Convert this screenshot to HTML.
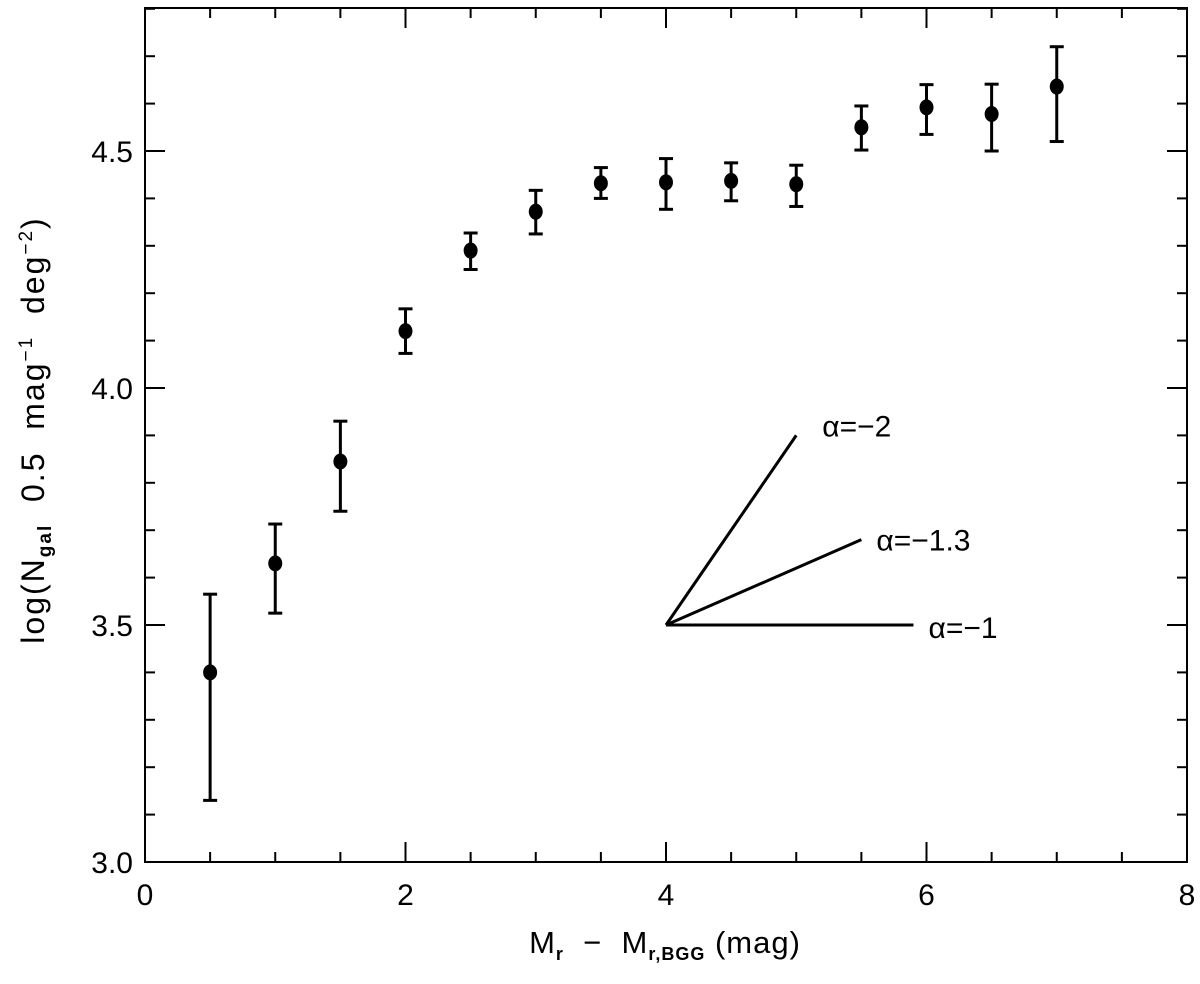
<!DOCTYPE html>
<html><head><meta charset="utf-8"><style>
body{margin:0;background:#fff}
svg text{font-family:"Liberation Sans",sans-serif;fill:#000}
</style></head><body>
<svg id="c" width="1200" height="979" xmlns="http://www.w3.org/2000/svg"></svg>
<script>
const xVals=[0.5,1,1.5,2,2.5,3,3.5,4,4.5,5,5.5,6,6.5,7];
const yVals=[3.40,3.63,3.845,4.12,4.29,4.372,4.432,4.434,4.437,4.43,4.55,4.592,4.578,4.636];
const yLow=[3.13,3.525,3.74,4.073,4.25,4.325,4.40,4.377,4.395,4.383,4.502,4.535,4.50,4.52];
const yHigh=[3.565,3.713,3.93,4.167,4.327,4.417,4.465,4.484,4.475,4.47,4.595,4.64,4.641,4.72];
const xTicks=[0,2,4,6,8];
const yTicks=[3.0,3.5,4.0,4.5];
const slopeAlphas=[-2,-1.3,-1];
const slopeEnds=[5.0,5.5,5.9];
const slopeLabels=["α=−2","α=−1.3","α=−1"];
const L=145,R=1187,T=8,B=862;
const sx=v=>L+(v-0)*(R-L)/8;
const sy=v=>B-(v-3.0)*474;
const svg=document.getElementById('c');
const NS='http://www.w3.org/2000/svg';
function mk(t,a,p){const e=document.createElementNS(NS,t);for(const k in a)e.setAttribute(k,a[k]);(p||svg).appendChild(e);return e;}
let e;
e=mk('rect',{x:L,y:T,width:R-L,height:B-T,fill:'none',stroke:'#000','stroke-width':2});


for(let v=0;v<=8.001;v+=0.5){const maj=Math.abs(v%2)<1e-6;const len=maj?20:10;
 mk('line',{x1:sx(v),x2:sx(v),y1:B,y2:B-len,stroke:'#000','stroke-width':2});
 mk('line',{x1:sx(v),x2:sx(v),y1:T,y2:T+len,stroke:'#000','stroke-width':2});}
for(let v=3.0;v<=4.8001;v+=0.1){const r=Math.round(v*10);const maj=r%5===0;const len=maj?20:10;
 mk('line',{x1:L,x2:L+len,y1:sy(v),y2:sy(v),stroke:'#000','stroke-width':2});
 mk('line',{x1:R,x2:R-len,y1:sy(v),y2:sy(v),stroke:'#000','stroke-width':2});}
xTicks.forEach(v=>{e=mk('text',{x:sx(v),y:B+43,'font-size':30,'text-anchor':'middle'});e.textContent=v;

});
yTicks.forEach(v=>{e=mk('text',{x:L-12,y:sy(v)+11,'font-size':30,'text-anchor':'end'});e.textContent=v.toFixed(1);

});
xVals.forEach((x,i)=>{const g=mk('g',{});
 
 
 mk('line',{x1:sx(x),x2:sx(x),y1:sy(yLow[i]),y2:sy(yHigh[i]),stroke:'#000','stroke-width':3},g);
 mk('line',{x1:sx(x)-7,x2:sx(x)+7,y1:sy(yLow[i]),y2:sy(yLow[i]),stroke:'#000','stroke-width':3},g);
 mk('line',{x1:sx(x)-7,x2:sx(x)+7,y1:sy(yHigh[i]),y2:sy(yHigh[i]),stroke:'#000','stroke-width':3},g);
 mk('ellipse',{cx:sx(x),cy:sy(yVals[i]),rx:7,ry:8,fill:'#000'},g);});
const labOff=[[26,-10],[15,0],[15,2]];
slopeAlphas.forEach((a,i)=>{const x2=slopeEnds[i];const y2=3.5+0.4*(-a-1)*(x2-4);
 e=mk('line',{x1:sx(4),y1:sy(3.5),x2:sx(x2),y2:sy(y2),stroke:'#000','stroke-width':3});
 
 
 e=mk('text',{x:sx(x2)+labOff[i][0],y:sy(y2)+11+labOff[i][1],'font-size':30,'font-family':'Liberation Serif, serif'});e.textContent=slopeLabels[i];
 
 });
</script>
<div style="position:absolute;left:0;top:925px;width:1330px;text-align:center;font:31px 'Liberation Sans',sans-serif;letter-spacing:1px">M<sub style="font-size:18px;font-weight:bold">r</sub> &nbsp;−&nbsp; M<sub style="font-size:18px;font-weight:bold">r,BGG</sub> (mag)</div>
<div style="position:absolute;left:36px;top:430px;white-space:nowrap;font:32px 'Liberation Sans',sans-serif;letter-spacing:2px;transform:translate(-50%,-50%) rotate(-90deg)">log(N<sub style="font-size:19px;font-weight:bold">gal</sub> &nbsp;0.5 &nbsp;mag<sup style="font-size:19px">−1</sup> &nbsp;deg<sup style="font-size:19px">−2</sup>)</div>
</body></html>
